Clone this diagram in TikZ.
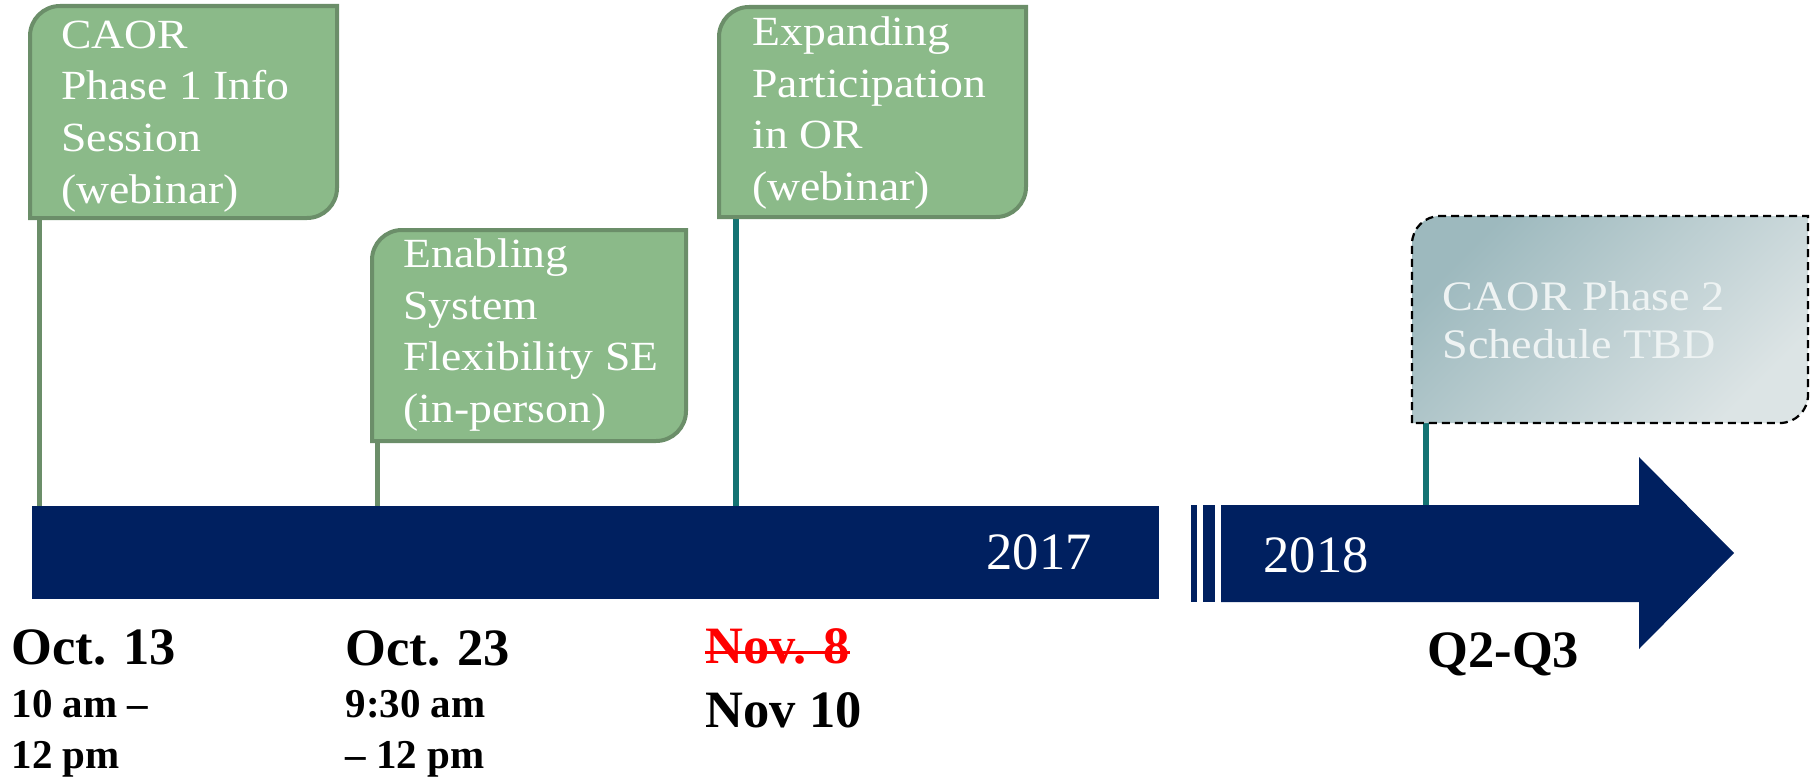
\documentclass[tikz,border=0pt]{standalone}
\usepackage{fontspec}
\setmainfont{Liberation Serif}
\newfontfamily\flagfont{Liberation Serif}[FakeStretch=1.1]
\usetikzlibrary{positioning}
\definecolor{navy}{HTML}{002060}
\definecolor{sage}{HTML}{8BBA89}
\definecolor{sageedge}{HTML}{6B8E69}
\definecolor{stemteal}{HTML}{147373}
\definecolor{fogtop}{HTML}{9DB9BE}
\definecolor{fogbot}{HTML}{DCE4E5}
\definecolor{fogtext}{HTML}{EEF3F3}
\tikzset{
  flag/.style={draw=sageedge, line width=1.6pt, fill=sage},
  tbd/.style={draw=black, line width=0.9pt, dash pattern=on 3.2pt off 2pt, top color=fogtop, bottom color=fogbot, shading angle=45},
  flagtext/.style={anchor=base west, inner sep=0pt, align=left, text=white, font=\flagfont\fontsize{16.6pt}{20.6pt}\selectfont},
  pole/.style={sageedge, line width=2pt},
  tealpole/.style={stemteal, line width=2.6pt},
  datelbl/.style={anchor=base west, inner sep=0pt, font=\bfseries\fontsize{21pt}{26pt}\selectfont},
  timelbl/.style={anchor=base west, inner sep=0pt, align=left, font=\bfseries\fontsize{16.4pt}{20.4pt}\selectfont},
  yearlbl/.style={anchor=base west, inner sep=0pt, text=white, font=\fontsize{21pt}{25pt}\selectfont},
  strike/.style={red, line width=1.2pt}}

\begin{document}
\begin{tikzpicture}[x=0.4pt, y=-0.4pt]
\useasboundingbox (0,0) rectangle (1816,780);
\coordinate (axis) at (0,506);
\coordinate (f1) at (39,218);
\coordinate (f2) at (377,441);
\coordinate (f3) at (736,217);
\coordinate (f4) at (1426,423);
\draw[pole] (f1) -- (f1 |- axis);
\draw[pole] (f2) -- (f2 |- axis);
\draw[tealpole] (f3) -- (f3 |- axis);
\draw[tealpole] (f4) -- (f4 |- axis);

\draw[flag] (30,218) -- (30,36) arc[start angle=180, end angle=270, radius=30] -- (337,6) -- (337,188) arc[start angle=0, end angle=90, radius=30] -- cycle;
\draw[flag] (372,441) -- (372,260) arc[start angle=180, end angle=270, radius=30] -- (686,230) -- (686,411) arc[start angle=0, end angle=90, radius=30] -- cycle;
\draw[flag] (719,217) -- (719,37) arc[start angle=180, end angle=270, radius=30] -- (1026,7) -- (1026,187) arc[start angle=0, end angle=90, radius=30] -- cycle;
\draw[tbd] (1412,423) -- (1412,244) arc[start angle=180, end angle=270, radius=28] -- (1808,216) -- (1808,395) arc[start angle=0, end angle=90, radius=28] -- cycle;

\fill[navy] (32,506) rectangle (1159,599);
\fill[navy] (1191,505) rectangle (1197,602);
\fill[navy] (1203,505) rectangle (1215,602);
\fill[navy] (1221,505) -- (1639,505) -- (1639,457) -- (1734,553) -- (1639,649) -- (1639,602) -- (1221,602) -- cycle;

\node[flagtext] (caor1) at (61,203) {CAOR\\Phase 1 Info\\Session\\(webinar)};
\node[flagtext] (esf) at (403,422) {Enabling\\System\\Flexibility SE\\(in-person)};
\node[flagtext] (epor) at (752,200) {Expanding\\Participation\\in OR\\(webinar)};
\node[flagtext, text=fogtext, font=\flagfont\fontsize{16.8pt}{19.2pt}\selectfont] (caor2) at (1442,358) {CAOR Phase 2\\Schedule TBD};

\node[yearlbl] (y17) at (986,569) {2017};
\node[yearlbl] (y18) at (1263,572) {2018};

\node[datelbl] (oct13) at (11,664) {Oct. 13};
\node[timelbl] (oct13t) at (11,768) {10 am –\\12 pm};
\node[datelbl] (oct23) at (345,665) {Oct. 23};
\node[timelbl] (oct23t) at (345,768) {9:30 am\\– 12 pm};
\node[datelbl, text=red] (nov8) at (705,663) {Nov. 8};
\draw[strike] ([yshift=4.4pt]nov8.base west) -- ([yshift=4.4pt]nov8.base east);
\node[datelbl] (nov10) at (705,727) {Nov 10};
\node[datelbl] (q23) at (1427,667) {Q2-Q3};
\end{tikzpicture}
\end{document}
